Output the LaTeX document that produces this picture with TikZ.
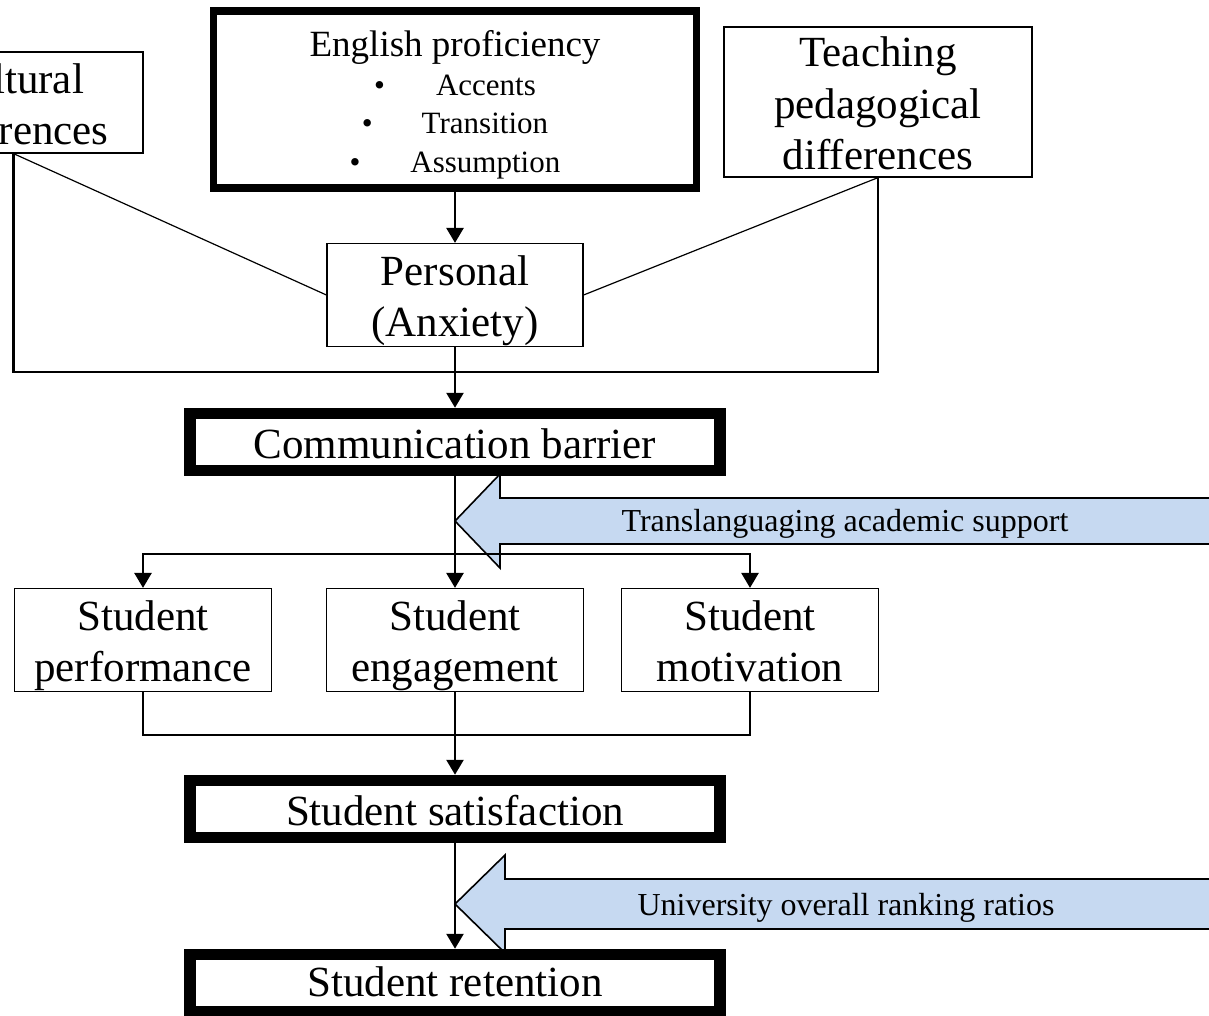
\documentclass[tikz,border=0pt]{standalone}
\usepackage{fontspec}
\setmainfont{Liberation Serif}
\usetikzlibrary{arrows.meta,positioning}
\definecolor{bandblue}{RGB}{198,217,241}
\tikzset{plainbox/.style={draw,line width=1.2pt,fill=white,inner sep=0pt,align=center,font=\fontsize{43}{51}\selectfont},
  heavybox/.style={plainbox,line width=11.5pt},
  flow/.style={-{Triangle[length=15pt,width=17pt]},line width=2.6pt},
  link/.style={line width=1.2pt},
  thicklink/.style={line width=2.6pt},
  band/.style={draw,fill=bandblue,line width=1.6pt,line join=miter},
  bandtext/.style={font=\fontsize{32}{38}\selectfont}}

\begin{document}
\begin{tikzpicture}[x=1pt,y=-1pt]
\useasboundingbox (0,0) rectangle (1209,1015);
\clip (0,0) rectangle (1209,1015);
% side influences
\coordinate (tipA) at (455,521);
\coordinate (tipB) at (455,904);
\draw[band] (tipA) -- ++(45,-47) -- ++(0,24) -- ++(780,0) -- ++(0,46) -- ++(-780,0) -- ++(0,24) -- cycle;
\draw[band] (tipB) -- ++(50,-49) -- ++(0,24) -- ++(780,0) -- ++(0,50) -- ++(-780,0) -- ++(0,24) -- cycle;
\node[bandtext] (supp) at (845,524) {Translanguaging academic support};
\node[bandtext] (rank) at (846,908) {University overall ranking ratios};
% boxes
\node[plainbox,minimum width=259pt,minimum height=101pt] (cult) at (13.5,102.5) {\rule{0pt}{33pt}Cultural\\differences};
\node[heavybox,line width=7.5pt,minimum width=483pt,minimum height=177pt,font=\fontsize{31}{38.5}\selectfont] (eng) at (455,99.5)
  {\rule{0pt}{37pt}{\fontsize{37}{38.5}\selectfont English proficiency}\\
   \textbullet\hspace{51pt}Accents\\
   \textbullet\hspace{49pt}Transition\\
   \textbullet\hspace{50pt}Assumption};
\node[plainbox,minimum width=308pt,minimum height=150pt,font=\fontsize{43}{51.5}\selectfont] (teach) at (878,102) {\rule{0pt}{33pt}Teaching\\pedagogical\\differences};
\node[plainbox,minimum width=256pt,minimum height=103pt] (pers) at (455,295) {\rule{0pt}{42pt}Personal\\(Anxiety)};
\node[heavybox,minimum width=530pt,minimum height=57pt] (comm) at (455,442) {\rule{0pt}{34pt}Communication barrier};
\node[plainbox,minimum width=257pt,minimum height=103pt] (perf) at (143,640) {\rule{0pt}{41pt}Student\\performance};
\node[plainbox,minimum width=257pt,minimum height=103pt] (engm) at (455,640) {\rule{0pt}{41pt}Student\\engagement};
\node[plainbox,minimum width=257pt,minimum height=103pt] (motv) at (750,640) {\rule{0pt}{41pt}Student\\motivation\vphantom{p}};
\node[heavybox,minimum width=530pt,minimum height=57pt] (sat) at (455,809) {\rule{0pt}{34pt}Student satisfaction};
\node[heavybox,minimum width=530pt,minimum height=57pt] (ret) at (455,983) {\rule{0pt}{37pt}Student retention\vphantom{p}};
% connectors
\coordinate (join) at (455,372);
\coordinate (split) at (455,554);
\coordinate (merge) at (455,735);
\draw[link] (cult.south) -- (pers.west);
\draw[link] (teach.south) -- (pers.east);
\draw[thicklink] (cult.south) |- (join);
\draw[link] (teach.south) |- (join);
\draw[flow] (eng) -- (pers);
\draw[flow] (pers) -- (comm);
\draw[flow] (comm) -- (engm);
\draw[flow] (split) -| (perf);
\draw[flow] (split) -| (motv);
\draw[link] (perf) |- (merge) -| (motv);
\draw[flow] (engm) -- (sat);
\draw[flow] (sat) -- (ret);
\end{tikzpicture}
\end{document}
